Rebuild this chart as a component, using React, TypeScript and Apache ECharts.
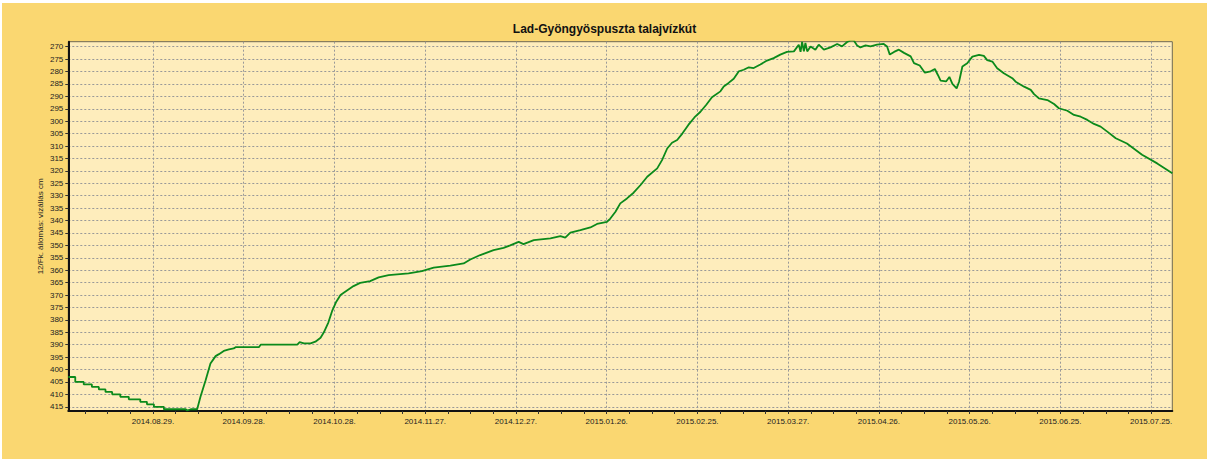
import React, { useEffect, useRef } from 'react';
import * as echarts from 'echarts';

const START_DATE = '2014.08.01.';
const END_DATE = '2015.08.01.';

const chartTitle = 'Lad-Gyöngyöspuszta talajvízkút';
const yAxisTitle = '12/Fk. állomás: vízállás cm';

const xTickLabels = [
  '2014.08.29.', '2014.09.28.', '2014.10.28.', '2014.11.27.', '2014.12.27.', '2015.01.26.',
  '2015.02.25.', '2015.03.27.', '2015.04.26.', '2015.05.26.', '2015.06.25.', '2015.07.25.',
];

const yTicks = [
  270, 275, 280, 285, 290, 295, 300, 305, 310, 315, 320, 325, 330, 335, 340,
  345, 350, 355, 360, 365, 370, 375, 380, 385, 390, 395, 400, 405, 410, 415,
];

// days since 2014.08.01.
const days = [
  0, 2.3, 2.3, 5.1, 5.1, 7.8, 7.8, 10.1, 10.1, 12.3, 12.3, 14.5, 14.5, 17.2, 17.2, 20.0,
  20.0, 23.8, 23.8, 26.0, 26.0, 28.3, 28.3, 31.6, 31.6, 38.8, 39.3, 40.5, 42.6, 43.7,
  45.4, 47.0, 48.7, 49.8, 51.4, 53.1, 54.7, 55.3, 63.0, 63.6, 75.7, 76.5, 77.9, 80.1,
  81.7, 83.4, 84.5, 86.0, 87.2, 88.6, 90.0, 91.3, 94.3, 96.5, 99.8, 102.6, 105.9, 112.5,
  116.9, 120.8, 126.3, 130.7, 132.9, 136.2, 140.6, 143.9, 146.1, 148.9, 150.5, 153.9,
  159.4, 162.7, 164.3, 166.0, 169.3, 172.6, 174.8, 178.1, 179.2, 180.9, 182.5, 184.7,
  186.9, 189.2, 191.4, 194.7, 196.3, 198.0, 199.6, 201.3, 203.0, 205.0, 207.0, 209.0,
  211.0, 212.8, 215.6, 216.7, 218.3, 220.0, 221.7, 223.3, 225.0, 226.6, 228.8, 231.0,
  233.2, 235.4, 237.6, 239.9, 241.5, 242.1, 242.6, 243.2, 243.7, 244.3, 245.4, 247.0,
  248.1, 249.8, 252.0, 254.2, 255.8, 257.5, 258.6, 259.7, 260.8, 261.9, 263.6, 265.2,
  267.4, 269.6, 270.7, 271.6, 273.0, 274.6, 276.3, 278.5, 279.6, 281.5, 283.2, 285.1,
  286.5, 287.5, 288.4, 290.2, 291.3, 292.3, 293.7, 294.5, 295.6, 297.2, 298.9, 301.1,
  302.7, 303.8, 305.5, 307.1, 309.3, 312.1, 313.2, 316.0, 318.2, 319.3, 320.9, 323.7,
  325.9, 327.5, 330.3, 332.5, 334.7, 336.9, 339.1, 341.3, 343.5, 346.3, 350.0, 355.0,
  360.0, 365.0,
];

// water level (cm below reference)
const levels = [
  403, 403, 405, 405, 406, 406, 407, 407, 408, 408, 409, 409, 410, 410, 411, 411,
  412, 412, 413, 413, 414, 414, 415, 415, 416, 416, 416.5, 416, 416, 411,
  404.3, 397.6, 394.6, 393.8, 392.5, 391.9, 391.5, 391, 391, 390, 390, 389, 389.5, 389.5,
  388.8, 387.2, 385, 381, 376.5, 372.7, 370, 368.9, 366.4, 365.1, 364.4, 362.9, 362, 361.3,
  360.4, 359, 358.2, 357.3, 355.7, 353.9, 351.9, 351, 350, 348.6, 349.5, 347.9,
  347.2, 346.3, 346.9, 344.9, 343.9, 342.8, 341.4, 340.5, 339.2, 336.5, 333.1, 331.1,
  328.8, 325.7, 322.4, 319, 315.7, 311, 308.7, 307.6, 305, 301.5, 298.5, 296.2,
  293.3, 290.4, 288, 286, 284.6, 282.9, 279.9, 279.3, 278.3, 278.6, 277.2, 275.6,
  274.6, 273.2, 272.1, 271.9, 269.2, 272.1, 268.1, 271.9, 268.5, 271.9, 269.9, 271.2,
  269.2, 271.2, 270.3, 268.9, 269.9, 268.1, 267.5, 267.5, 269.5, 270.3, 269.5, 269.9,
  269.2, 268.9, 269.9, 273.2, 272.1, 271.2, 272.5, 273.9, 276.6, 277.6, 280.5, 279.9,
  279.0, 281.4, 283.7, 284, 282.2, 285, 286.8, 284.1, 278, 276.7, 274, 273.3,
  273.7, 275.4, 276, 278.7, 280.7, 282.7, 284.1, 286.1, 287.4, 289.1, 290.8, 291.5,
  293.1, 294.8, 295.8, 297.5, 298.2, 299.5, 301.1, 302.2, 304.2, 306.9, 309, 313.5,
  317, 321,
];

const FONT = '"Liberation Sans", Arial, sans-serif';

function dateMs(label: string): number {
  const [y, m, d] = label.split('.').filter((s) => s.length > 0).map(Number);
  return Date.UTC(y, m - 1, d);
}
function dayOf(label: string): number {
  return Math.round((dateMs(label) - dateMs(START_DATE)) / 86400000);
}

export default function App() {
  const ref = useRef<HTMLDivElement>(null);

  useEffect(() => {
    if (!ref.current) return;
    const chart = echarts.init(ref.current, undefined, { renderer: 'svg' });

    const xMax = dayOf(END_DATE);
    const majors = xTickLabels.map(dayOf);
    const step = (majors[1] - majors[0]) / 4;
    const minors: number[] = [];
    for (let v = majors[0]; v >= 0; v -= step) minors.unshift(v);
    for (let v = majors[0] + step; v <= xMax; v += step) minors.push(v);

    const labelFor = (v: number) => {
      const i = majors.findIndex((m) => Math.abs(m - v) < 0.01);
      return i >= 0 ? xTickLabels[i] : '';
    };

    const option: any = {
      animation: false,
      backgroundColor: '#FAD771',
      title: {
        text: chartTitle,
        left: 'center',
        top: 20,
        padding: 0,
        textStyle: { fontFamily: FONT, fontSize: 12, fontWeight: 'bold', color: '#111' },
      },
      grid: {
        left: 66.3,
        top: 38.7,
        right: 34.7,
        bottom: 48,
        show: true,
        backgroundColor: '#FEEDBC',
        borderColor: '#6e6852',
        borderWidth: 1,
      },
      xAxis: [
        {
          type: 'value',
          min: 0,
          max: xMax,
          position: 'bottom',
          axisLine: { show: true, onZero: false, lineStyle: { color: '#111', width: 2 } },
          axisTick: { show: true, customValues: majors, length: 3, lineStyle: { color: '#333' } },
          axisLabel: {
            customValues: majors,
            formatter: (v: number) => labelFor(v),
            fontFamily: FONT,
            fontSize: 8,
            color: '#222',
            margin: 6,
          },
          splitLine: { show: true, lineStyle: { type: [2, 2], color: '#999999', width: 1 } },
        },
        {
          type: 'value',
          min: 0,
          max: xMax,
          position: 'bottom',
          axisLine: { show: false, onZero: false },
          axisTick: { show: true, customValues: minors, length: 3, lineStyle: { color: '#333' } },
          axisLabel: { show: false },
          splitLine: { show: false },
        },
      ],
      yAxis: {
        type: 'value',
        inverse: true,
        min: 268,
        max: 416.7,
        name: yAxisTitle,
        nameLocation: 'middle',
        nameGap: 24,
        nameMoveOverlap: false,
        nameTextStyle: { fontFamily: FONT, fontSize: 8, color: '#222' },
        axisLine: { show: true, onZero: false, lineStyle: { color: '#111', width: 2 } },
        axisTick: { show: true, customValues: yTicks, length: 3, lineStyle: { color: '#333' } },
        axisLabel: { customValues: yTicks, fontFamily: FONT, fontSize: 8, color: '#222', margin: 5 },
        splitLine: { show: true, lineStyle: { type: [2, 2], color: '#999999', width: 1 } },
      },
      series: [
        {
          type: 'line',
          xAxisIndex: 0,
          data: days.map((d, i) => [d, levels[i]]),
          showSymbol: false,
          symbol: 'none',
          clip: true,
          lineStyle: { color: '#0B8A1B', width: 1.8 },
        },
      ],
    };

    chart.setOption(option);
    return () => chart.dispose();
  }, []);

  return (
    <div style={{ position: 'fixed', left: 0, top: 0, width: 1207, height: 459, background: '#fff' }}>
      <div ref={ref} style={{ position: 'absolute', left: 2, top: 3, width: 1205, height: 456 }} />
    </div>
  );
}
